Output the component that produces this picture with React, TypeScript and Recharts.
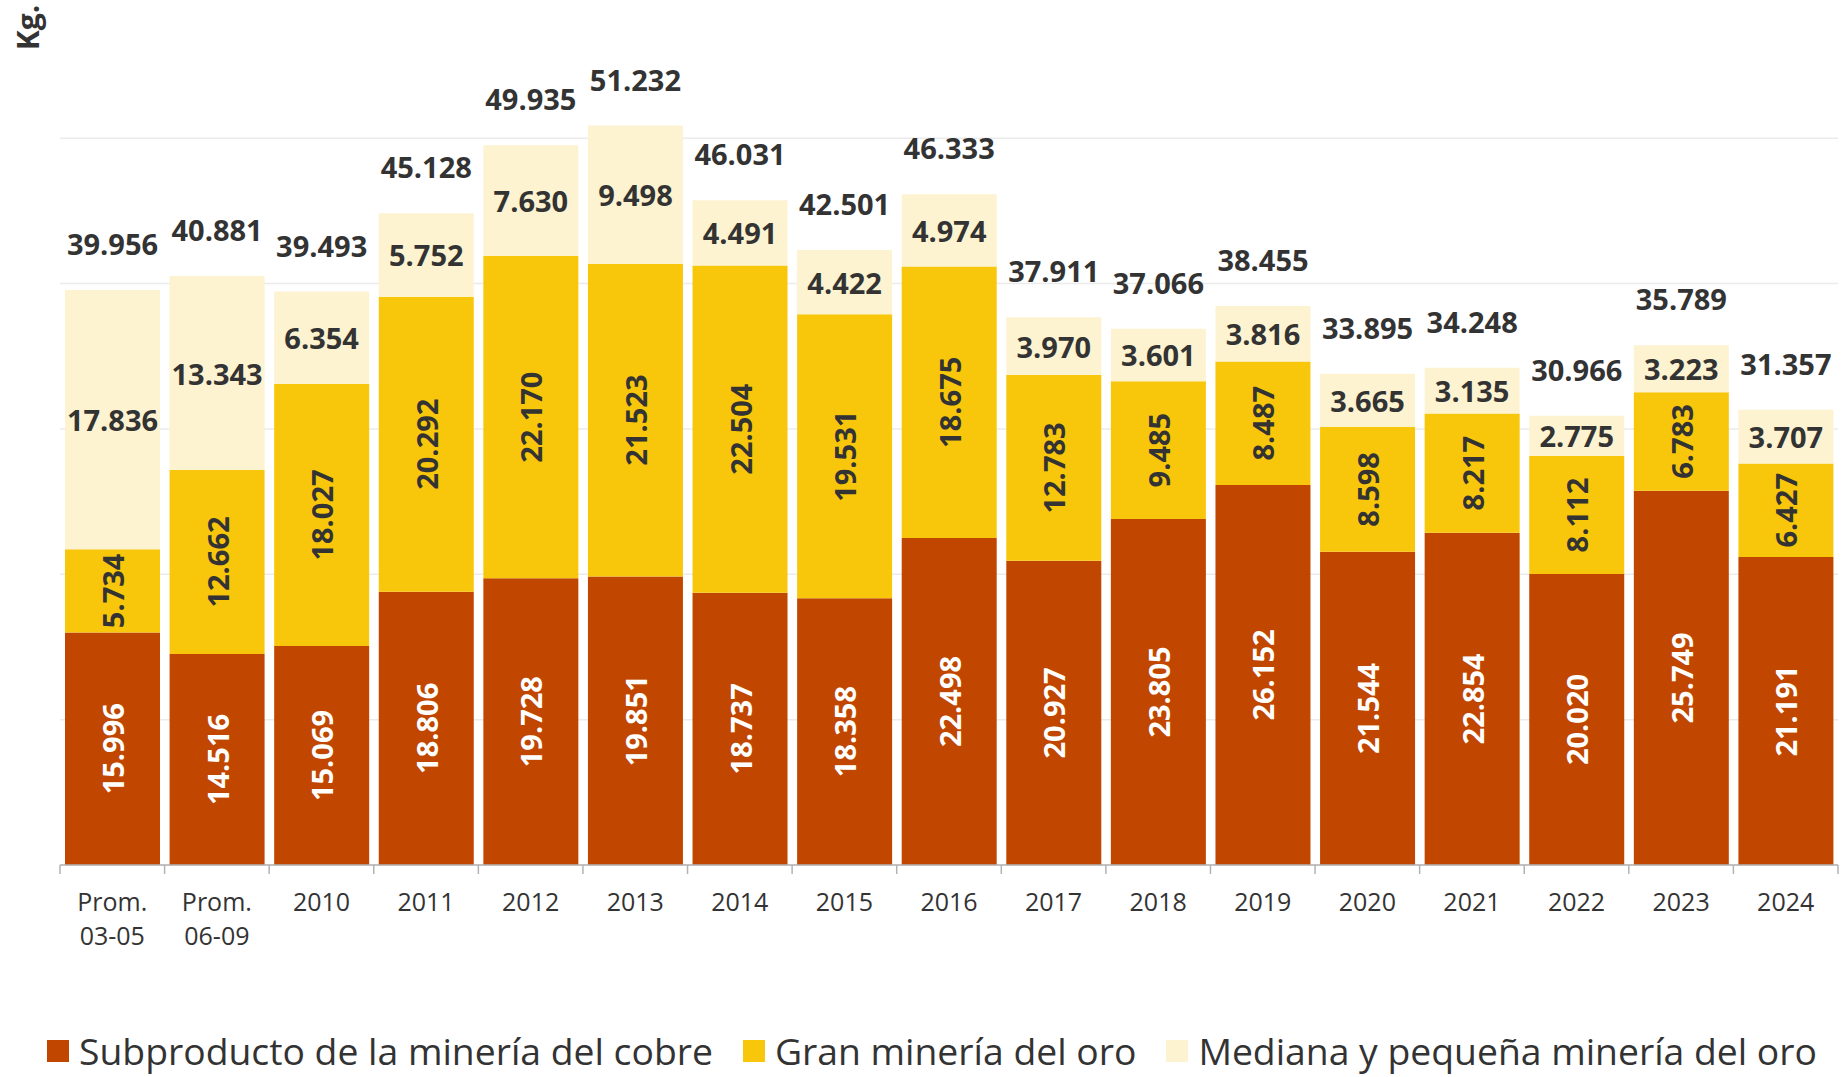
import { BarChart, Bar, XAxis, YAxis, CartesianGrid, LabelList } from "recharts";

const categories = [
  "Prom.\n03-05", "Prom.\n06-09", "2010", "2011", "2012", "2013", "2014", "2015", "2016",
  "2017", "2018", "2019", "2020", "2021", "2022", "2023", "2024",
];
const subproducto = [15996, 14516, 15069, 18806, 19728, 19851, 18737, 18358, 22498, 20927, 23805, 26152, 21544, 22854, 20020, 25749, 21191];
const granMineria = [5734, 12662, 18027, 20292, 22170, 21523, 22504, 19531, 18675, 12783, 9485, 8487, 8598, 8217, 8112, 6783, 6427];
const medianaPequena = [17836, 13343, 6354, 5752, 7630, 9498, 4491, 4422, 4974, 3970, 3601, 3816, 3665, 3135, 2775, 3223, 3707];
const totals = [39956, 40881, 39493, 45128, 49935, 51232, 46031, 42501, 46333, 37911, 37066, 38455, 33895, 34248, 30966, 35789, 31357];
const yTicks = [0, 10000, 20000, 30000, 40000, 50000];

const data = categories.map((c, i) => ({
  cat: c,
  sub: subproducto[i],
  gran: granMineria[i],
  med: medianaPequena[i],
  total: totals[i],
}));

const W = 1841;
const H = 1077;
const LEFT = 60;
const RIGHT = 3;
const FONT = "'Open Sans', sans-serif";
const DARK = "#333333";
const C_SUB = "#c14700";
const C_GRAN = "#f8c70c";
const C_MED = "#fdf3d0";
const LABEL_SIZE = 29;

const fmt = (v: number) => String(v).replace(/\B(?=(\d{3})+(?!\d))/g, ".");

const halfBand = (W - LEFT - RIGHT) / categories.length / 2;

const CatTick = (props: any) => {
  const { x, y, payload, index } = props;
  const lines = String(payload.value).split("\n");
  return (
    <g>
      <line x1={x - halfBand} x2={x - halfBand} y1={y} y2={y + 9} stroke="#b3b3b3" strokeWidth={1.5} />
      {index === categories.length - 1 && (
        <line x1={x + halfBand} x2={x + halfBand} y1={y} y2={y + 9} stroke="#b3b3b3" strokeWidth={1.5} />
      )}
      {lines.map((l, i) => (
        <text key={i} x={x} y={y + 46 + i * 34} textAnchor="middle" fill={DARK} fontSize={25} fontFamily={FONT}>
          {l}
        </text>
      ))}
    </g>
  );
};

const vertLabel = (color: string) => (props: any) => {
  const { x, y, width, height, value } = props;
  const cx = x + width / 2;
  const cy = y + height / 2;
  return (
    <text
      x={cx}
      y={cy}
      transform={`rotate(-90, ${cx}, ${cy})`}
      textAnchor="middle"
      dominantBaseline="central"
      fill={color}
      fontSize={LABEL_SIZE}
      fontWeight={700}
      fontFamily={FONT}
    >
      {fmt(value)}
    </text>
  );
};

const medLabel = (props: any) => {
  const { x, y, width, height, value } = props;
  return (
    <text
      x={x + width / 2}
      y={y + height / 2}
      textAnchor="middle"
      dominantBaseline="central"
      fill={DARK}
      fontSize={LABEL_SIZE}
      fontWeight={700}
      fontFamily={FONT}
    >
      {fmt(value)}
    </text>
  );
};

const totalLabel = (props: any) => {
  const { x, y, width, index } = props;
  return (
    <text x={x + width / 2} y={y - 35} textAnchor="middle" fill={DARK} fontSize={LABEL_SIZE} fontWeight={700} fontFamily={FONT}>
      {fmt(totals[index])}
    </text>
  );
};

const legendItems = [
  { name: "Subproducto de la minería del cobre", color: C_SUB },
  { name: "Gran minería del oro", color: C_GRAN },
  { name: "Mediana y pequeña minería del oro", color: C_MED },
];

export default function App() {
  return (
    <div style={{ position: "absolute", left: 0, top: 0, width: W, height: H, background: "#fff", fontFamily: FONT, overflow: "hidden" }}>
      <BarChart width={W} height={H} data={data} margin={{ top: 22, right: RIGHT, left: LEFT, bottom: 132 }}>
        <CartesianGrid vertical={false} stroke="#ebebeb" strokeWidth={1.5} horizontalValues={yTicks} />
        <XAxis
          dataKey="cat"
          height={80}
          interval={0}
          tickLine={false}
          tickSize={0}
          tickMargin={0}
          axisLine={{ stroke: "#b3b3b3", strokeWidth: 1.5 }}
          tick={<CatTick />}
        />
        <YAxis hide domain={[0, 58000]} ticks={yTicks} allowDataOverflow />
        <Bar dataKey="sub" stackId="a" fill={C_SUB} barSize={95} isAnimationActive={false}>
          <LabelList dataKey="sub" content={vertLabel("#ffffff")} />
        </Bar>
        <Bar dataKey="gran" stackId="a" fill={C_GRAN} barSize={95} isAnimationActive={false}>
          <LabelList dataKey="gran" content={vertLabel(DARK)} />
        </Bar>
        <Bar dataKey="med" stackId="a" fill={C_MED} barSize={95} isAnimationActive={false}>
          <LabelList dataKey="med" content={medLabel} />
          <LabelList dataKey="total" content={totalLabel} />
        </Bar>
      </BarChart>
      <div
        style={{
          position: "absolute",
          left: 4,
          top: 4,
          width: 47,
          height: 47,
          display: "flex",
          alignItems: "center",
          justifyContent: "center",
        }}
      >
        <div style={{ transform: "rotate(-90deg)", fontSize: 30, fontWeight: 700, color: DARK, whiteSpace: "nowrap" }}>Kg.</div>
      </div>
      <div
        style={{
          position: "absolute",
          left: 47,
          top: 1031,
          height: 40,
          display: "flex",
          alignItems: "center",
          gap: 30,
          whiteSpace: "nowrap",
        }}
      >
        {legendItems.map((it) => (
          <div key={it.name} style={{ display: "flex", alignItems: "center", gap: 10 }}>
            <div style={{ width: 22, height: 22, background: it.color }} />
            <span style={{ fontSize: 37.3, color: DARK, lineHeight: "40px" }}>{it.name}</span>
          </div>
        ))}
      </div>
    </div>
  );
}
